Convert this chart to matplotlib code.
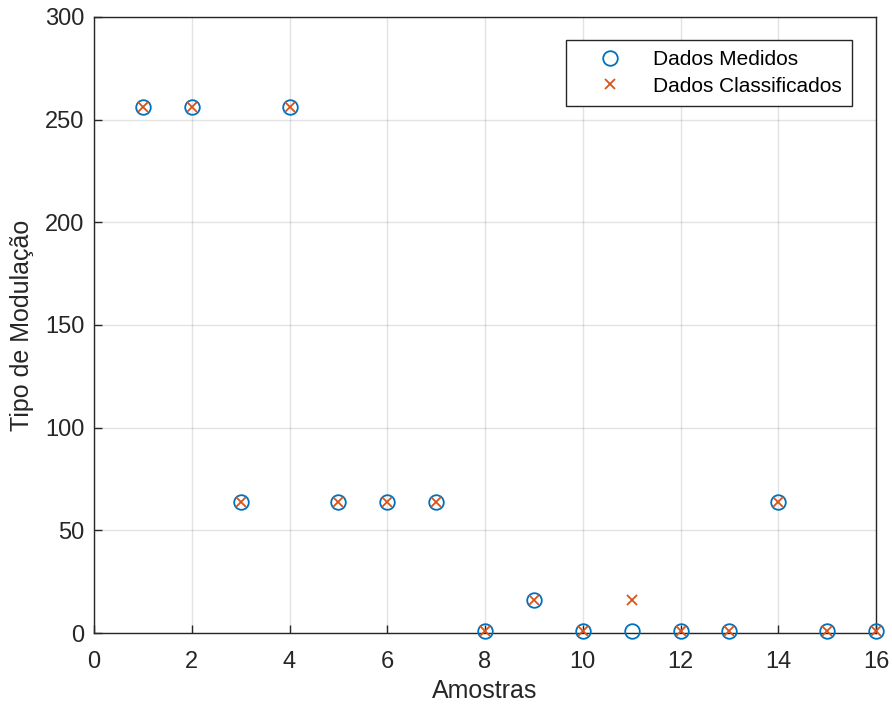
import matplotlib
matplotlib.use("Agg")
import matplotlib.pyplot as plt

amostras = list(range(1, 17))
medidos = [256, 256, 64, 256, 64, 64, 64, 1, 16, 1, 1, 1, 1, 64, 1, 1]
classificados = [256, 256, 64, 256, 64, 64, 64, 1, 16, 1, 16, 1, 1, 64, 1, 1]
xticks = [0, 2, 4, 6, 8, 10, 12, 14, 16]
yticks = [0, 50, 100, 150, 200, 250, 300]

plt.rcParams['font.family'] = ['Liberation Sans', 'DejaVu Sans']

fig = plt.figure(figsize=(8.92, 7.09), dpi=100)
ax = fig.add_axes([94/892, 1 - 633/709, (876-94)/892, (633-17)/709])

ax.plot(amostras, medidos, linestyle='none', marker='o', markersize=10.5,
        markerfacecolor='none', markeredgecolor='#0072BD', markeredgewidth=1.3,
        label='Dados Medidos', clip_on=False, zorder=3)
ax.plot(amostras, classificados, linestyle='none', marker='x', markersize=7.5,
        color='#D95319', markeredgewidth=1.3,
        label='Dados Classificados', clip_on=False, zorder=4)

ax.set_xlim(0, 16)
ax.set_ylim(0, 300)
ax.set_xticks(xticks)
ax.set_yticks(yticks)
ax.grid(True, color='#262626', alpha=0.13, linewidth=1)
ax.set_axisbelow(True)
ax.tick_params(direction='in', length=6, width=1, colors='#262626',
               labelsize=17, top=False, right=False)
ax.tick_params(axis='x', pad=13)
ax.tick_params(axis='y', pad=7)
for s in ax.spines.values():
    s.set_color('#262626')
    s.set_linewidth(1)

ax.set_xlabel('Amostras', fontsize=18, color='#262626', labelpad=4)
ax.set_ylabel('Tipo de Modulação', fontsize=18, color='#262626', labelpad=8)

leg = ax.legend(loc='upper right', bbox_to_anchor=(852/892, 1 - 40/709),
                bbox_transform=fig.transFigure, fontsize=15, fancybox=False,
                framealpha=1, edgecolor='#262626', borderpad=0.5,
                handletextpad=0.48, labelspacing=0.35, handlelength=3.2,
                borderaxespad=0)
leg.get_frame().set_linewidth(1)
for t in leg.get_texts():
    t.set_color('#000000')

fig.savefig('out.png', dpi=100)
